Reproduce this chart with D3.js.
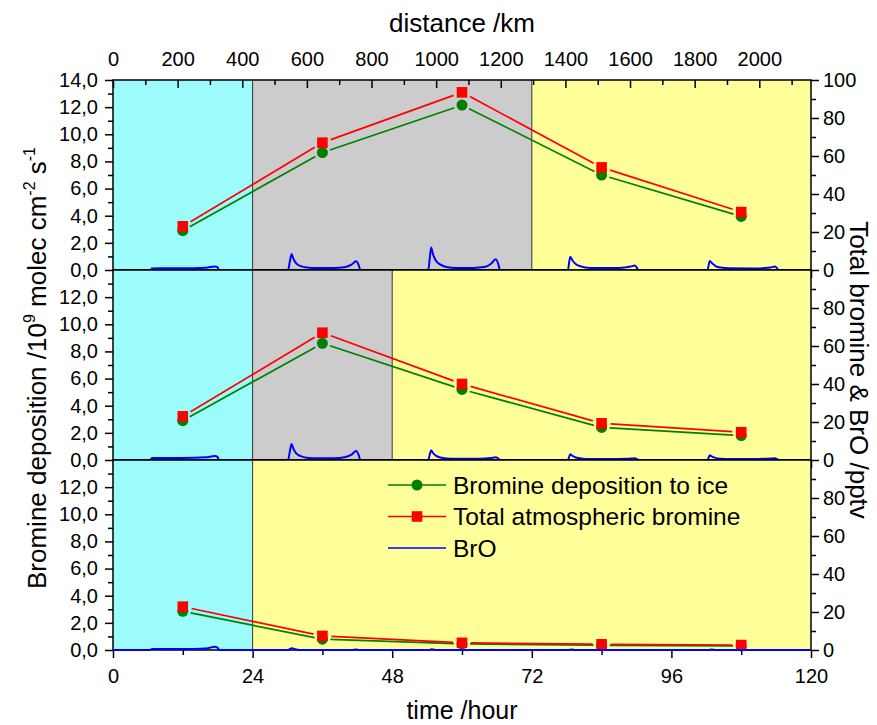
<!DOCTYPE html>
<html>
<head>
<meta charset="utf-8">
<script src="https://cdn.jsdelivr.net/npm/d3@7/dist/d3.min.js"></script>
<style>
  body { margin: 0; background: #fff; }
  svg text { font-family: Arial, "Liberation Sans", sans-serif; fill: #000; }
</style>
</head>
<body>
<svg id="chart" width="877" height="725"></svg>
<script>
// sampling times of the model output
var hours = [12, 36, 60, 84, 108];

// bromine deposition to ice, 1e9 molec cm-2 s-1 (left axis)
var depositionTop = [2.9, 8.65, 12.15, 7.0, 3.95];
var depositionMid = [2.9, 8.6, 5.2, 2.4, 1.8];
var depositionBot = [2.85, 0.8, 0.45, 0.35, 0.3];

// total atmospheric bromine, pptv (right axis)
var totalTop = [23, 67, 93.5, 54, 30.5];
var totalMid = [23, 67, 40, 19.3, 14.6];
var totalBot = [22.8, 7.4, 3.8, 3.0, 2.6];

// BrO, pptv, [hour, value]
var broTop = [[0, 0], [6.4, 0], [6.7, 0.8], [8, 0.9], [12, 0.9], [16, 1.2], [17.5, 1.9], [18, 1.4], [18.2, 0],
  [30.1, 0], [30.4, 4.5], [30.7, 8.4], [31, 6], [31.5, 3.5], [32.3, 2], [33.3, 1.3], [35, 1.0], [38, 1.0], [40, 1.6], [41, 2.8], [41.8, 4.6], [42.3, 2], [42.5, 0],
  [54.2, 0], [54.45, 6], [54.7, 11.9], [55, 8.5], [55.5, 5], [56.3, 2.8], [57.3, 1.6], [59, 1.1], [62, 1.1], [64, 1.7], [65, 3.3], [65.8, 5.7], [66.3, 2.5], [66.5, 0],
  [78.2, 0], [78.6, 7], [79, 5], [79.6, 3], [80.5, 1.8], [82, 1.1], [86, 1.0], [88, 1.3], [89, 1.8], [89.7, 2.4], [90.1, 1], [90.3, 0],
  [102.2, 0], [102.6, 4.8], [103, 3.5], [103.6, 2.1], [104.5, 1.3], [106, 0.9], [110, 0.8], [112, 1.0], [113, 1.3], [113.8, 1.8], [114.2, 0.8], [114.4, 0], [120, 0]];
var broMid = [[0, 0], [6.4, 0], [6.7, 1.0], [8, 1.1], [12, 1.1], [16, 1.4], [17.5, 2.1], [18, 1.5], [18.2, 0],
  [30.1, 0], [30.4, 4.5], [30.7, 8.4], [31, 6], [31.5, 3.5], [32.3, 2], [33.3, 1.2], [35, 0.9], [38, 0.9], [40, 1.6], [41, 2.8], [41.8, 4.7], [42.3, 2], [42.5, 0],
  [54.2, 0], [54.45, 2.8], [54.7, 5.1], [55, 3.8], [55.5, 2.3], [56.3, 1.3], [57.3, 0.8], [59, 0.6], [62, 0.6], [64, 0.8], [65, 1.1], [65.8, 1.4], [66.3, 0.6], [66.5, 0],
  [78.2, 0], [78.6, 3.0], [79, 2.2], [79.6, 1.3], [80.5, 0.8], [82, 0.5], [86, 0.5], [88, 0.6], [89, 0.8], [89.7, 0.9], [90.1, 0.4], [90.3, 0],
  [102.2, 0], [102.6, 2.5], [103, 1.8], [103.6, 1.1], [104.5, 0.7], [106, 0.5], [110, 0.5], [112, 0.6], [113, 0.8], [113.8, 0.9], [114.2, 0.4], [114.4, 0], [120, 0]];
var broBot = [[0, 0], [6.4, 0], [6.7, 0.5], [8, 0.5], [12, 0.5], [16, 0.8], [17.5, 1.7], [18, 1.2], [18.2, 0],
  [30.1, 0], [30.7, 0.9], [31.5, 0.3], [32.5, 0],
  [41, 0], [41.8, 0.3], [42.3, 0],
  [54.3, 0], [54.8, 0.4], [55.6, 0],
  [78.3, 0], [78.8, 0.3], [79.5, 0],
  [102.4, 0], [102.9, 0.3], [103.6, 0], [120, 0]];

// surface zones along the track (hour boundaries)
var zonesTop = [[0, 24, "open"], [24, 72, "young"], [72, 120, "old"]];
var zonesMid = [[0, 24, "open"], [24, 48, "young"], [48, 120, "old"]];
var zonesBot = [[0, 24, "open"], [24, 120, "old"]];

var distanceTicks = d3.range(0, 2001, 200);
var timeTicks = [0, 24, 48, 72, 96, 120];

var zoneColor = {open: "#9cfcfc", young: "#cccccc", old: "#ffff99"};
var green = "#008000", red = "#ff0000", blue = "#0000ff";

var svg = d3.select("#chart");
var left = 113, right = 811, panelH = 190;
var x = d3.scaleLinear().domain([0, 120]).range([left, right]);
var xDist = d3.scaleLinear().domain([0, 2160]).range([left, right]);
var comma = function (v) { return d3.format(".1f")(v).replace(".", ","); };

var panels = [
  {top: 80, zones: zonesTop, dep: depositionTop, tot: totalTop, bro: broTop, maxL: 14, maxR: 100},
  {top: 270, zones: zonesMid, dep: depositionMid, tot: totalMid, bro: broMid, maxL: 12, maxR: 80},
  {top: 460, zones: zonesBot, dep: depositionBot, tot: totalBot, bro: broBot, maxL: 12, maxR: 80}
];

function styleAxis(g) {
  g.select(".domain").remove();
  g.selectAll("line").attr("stroke", "#000").attr("stroke-width", 1.5);
  g.selectAll("text").attr("font-size", 20);
}

// draws a polyline that stops short of each marker
function gappedLine(g, pts, color, gap) {
  var i, a, b, dx, dy, len;
  for (i = 0; i < pts.length - 1; i += 1) {
    a = pts[i];
    b = pts[i + 1];
    dx = b[0] - a[0];
    dy = b[1] - a[1];
    len = Math.sqrt(dx * dx + dy * dy);
    if (len <= 2 * gap) { continue; }
    g.append("line")
      .attr("x1", a[0] + dx / len * gap).attr("y1", a[1] + dy / len * gap)
      .attr("x2", b[0] - dx / len * gap).attr("y2", b[1] - dy / len * gap)
      .attr("stroke", color).attr("stroke-width", 1.7);
  }
}

panels.forEach(function (p, idx) {
  var g = svg.append("g");
  var bottom = p.top + panelH;
  var yL = d3.scaleLinear().domain([0, 14]).range([bottom, p.top]);
  var yR = d3.scaleLinear().domain([0, 100]).range([bottom, p.top]);
  var isLast = idx === panels.length - 1;

  g.selectAll("rect.zone").data(p.zones).enter().append("rect")
    .attr("x", function (d) { return x(d[0]); })
    .attr("width", function (d) { return x(d[1]) - x(d[0]); })
    .attr("y", p.top).attr("height", panelH)
    .attr("fill", function (d) { return zoneColor[d[2]]; });

  g.selectAll("line.edge").data(p.zones.slice(1)).enter().append("line")
    .attr("x1", function (d) { return x(d[0]); }).attr("x2", function (d) { return x(d[0]); })
    .attr("y1", p.top).attr("y2", bottom)
    .attr("stroke", "#333").attr("stroke-width", 1);

  var broLine = d3.line()
    .x(function (d) { return x(d[0]); })
    .y(function (d) { return yR(d[1]); })
    .curve(d3.curveMonotoneX);

  var broPath = g.append("path").datum(p.bro)
    .attr("d", broLine).attr("fill", "none")
    .attr("stroke", blue).attr("stroke-width", 2);

  var depPts = hours.map(function (h, i) { return [x(h), yL(p.dep[i])]; });
  var totPts = hours.map(function (h, i) { return [x(h), yR(p.tot[i])]; });

  gappedLine(g, depPts, green, 8);
  gappedLine(g, totPts, red, 9);

  g.selectAll("circle.dep").data(depPts).enter().append("circle")
    .attr("cx", function (d) { return d[0]; }).attr("cy", function (d) { return d[1]; })
    .attr("r", 5.5).attr("fill", green);
  g.selectAll("rect.tot").data(totPts).enter().append("rect")
    .attr("x", function (d) { return d[0] - 5.3; }).attr("y", function (d) { return d[1] - 5.3; })
    .attr("width", 10.6).attr("height", 10.6).attr("fill", red);

  // left axis
  g.append("g").attr("transform", "translate(" + left + ",0)")
    .call(d3.axisLeft(yL).tickValues(d3.range(1, 14, 2)).tickSize(5).tickFormat(""))
    .call(styleAxis);
  g.append("g").attr("transform", "translate(" + left + ",0)")
    .call(d3.axisLeft(yL).tickValues(d3.range(0, p.maxL + 0.1, 2)).tickSize(8).tickPadding(7).tickFormat(comma))
    .call(styleAxis);
  // right axis
  g.append("g").attr("transform", "translate(" + right + ",0)")
    .call(d3.axisRight(yR).tickValues(d3.range(10, 100, 20)).tickSize(5).tickFormat(""))
    .call(styleAxis);
  g.append("g").attr("transform", "translate(" + right + ",0)")
    .call(d3.axisRight(yR).tickValues(d3.range(0, p.maxR + 1, 20)).tickSize(8).tickPadding(4))
    .call(styleAxis);
  // bottom time axis
  g.append("g").attr("transform", "translate(0," + bottom + ")")
    .call(d3.axisBottom(x).tickValues(d3.range(12, 120, 24)).tickSize(5).tickFormat(""))
    .call(styleAxis);
  g.append("g").attr("transform", "translate(0," + bottom + ")")
    .call(d3.axisBottom(x).tickValues(timeTicks).tickSize(8).tickPadding(11)
      .tickFormat(isLast ? d3.format("d") : ""))
    .call(styleAxis);

  g.append("rect").attr("x", left).attr("y", p.top)
    .attr("width", right - left).attr("height", panelH)
    .attr("fill", "none").attr("stroke", "#000").attr("stroke-width", 1.5);

  if (isLast) { broPath.raise(); }
});

// top distance axis, ticks pointing inward
svg.append("g").attr("transform", "translate(0,80)")
  .call(d3.axisTop(xDist).tickValues(d3.range(100, 2160, 200)).tickSizeInner(-5).tickSizeOuter(0).tickFormat(""))
  .call(styleAxis);
svg.append("g").attr("transform", "translate(0,80)")
  .call(d3.axisTop(xDist).tickValues(distanceTicks).tickSizeInner(-8).tickSizeOuter(0).tickPadding(14)
    .tickFormat(d3.format("d")))
  .call(styleAxis);

// axis titles
svg.append("text").attr("x", 462).attr("y", 32).attr("text-anchor", "middle")
  .attr("font-size", 26).text("distance /km");
svg.append("text").attr("x", 462).attr("y", 719).attr("text-anchor", "middle")
  .attr("font-size", 25).text("time /hour");

var lt = svg.append("text").attr("transform", "translate(46,368) rotate(-90)")
  .attr("text-anchor", "middle").attr("font-size", 26);
lt.append("tspan").text("Bromine deposition /10");
lt.append("tspan").attr("font-size", 16).attr("dy", -11).text("9");
lt.append("tspan").attr("dy", 11).text(" molec cm");
lt.append("tspan").attr("font-size", 16).attr("dy", -11).text("-2");
lt.append("tspan").attr("dy", 11).text(" s");
lt.append("tspan").attr("font-size", 16).attr("dy", -11).text("-1");

svg.append("text").attr("transform", "translate(850,370) rotate(90)")
  .attr("text-anchor", "middle").attr("font-size", 26).text("Total bromine & BrO /pptv");

// legend
var legendItems = ["Bromine deposition to ice", "Total atmospheric bromine", "BrO"];
var legendColors = [green, red, blue];
var leg = svg.append("g");
legendItems.forEach(function (name, i) {
  var ly = 485 + i * 31.5;
  leg.append("line").attr("x1", 388).attr("x2", 446).attr("y1", ly).attr("y2", ly)
    .attr("stroke", legendColors[i]).attr("stroke-width", 1.7);
  if (i === 0) {
    leg.append("circle").attr("cx", 417).attr("cy", ly).attr("r", 5.5).attr("fill", green);
  } else if (i === 1) {
    leg.append("rect").attr("x", 411.7).attr("y", ly - 5.3).attr("width", 10.6).attr("height", 10.6).attr("fill", red);
  }
  leg.append("text").attr("x", 453).attr("y", ly).attr("dy", "0.35em")
    .attr("font-size", 24.5).text(name);
});
</script>
</body>
</html>
